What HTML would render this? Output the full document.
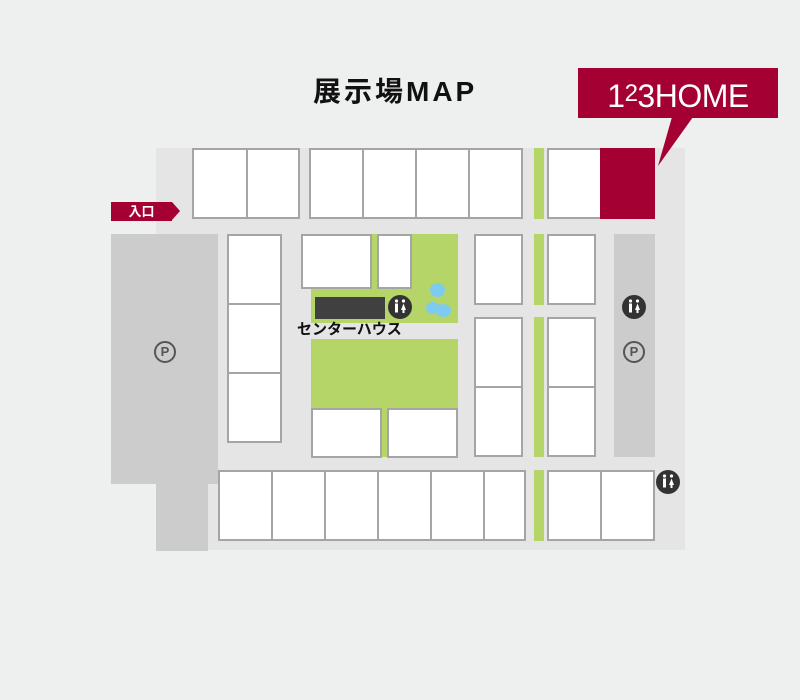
<!DOCTYPE html>
<html><head><meta charset="utf-8"><style>
body{margin:0;width:800px;height:700px;background:#eef0ef;position:relative;overflow:hidden;font-family:"Liberation Sans","Noto Sans CJK JP",sans-serif}
div{position:absolute;box-sizing:border-box}
.w{background:#fff;border:2px solid #a5a5a5}
.g{background:#b5d568}
.p{width:22px;height:22px;border-radius:50%;border:2px solid #555;color:#555;font-size:13px;font-weight:bold;text-align:center;line-height:18px}
</style></head><body>
<div style="left:313px;top:70px;width:180px;font-size:28px;font-weight:bold;letter-spacing:3px;color:#111;white-space:nowrap">展示場MAP</div>
<div style="left:156px;top:148px;width:529px;height:402px;background:#e5e5e5"></div>
<div style="left:111px;top:234px;width:107px;height:250px;background:#ccc"></div>
<div style="left:156px;top:454px;width:52px;height:97px;background:#ccc"></div>
<div style="left:614px;top:234px;width:41px;height:223px;background:#ccc"></div>
<div class="w" style="left:192px;top:148px;width:56px;height:71px"></div>
<div class="w" style="left:246px;top:148px;width:54px;height:71px"></div>
<div class="w" style="left:309px;top:148px;width:55px;height:71px"></div>
<div class="w" style="left:362px;top:148px;width:55px;height:71px"></div>
<div class="w" style="left:415px;top:148px;width:55px;height:71px"></div>
<div class="w" style="left:468px;top:148px;width:55px;height:71px"></div>
<div class="g" style="left:534px;top:148px;width:10px;height:71px"></div>
<div class="w" style="left:547px;top:148px;width:55px;height:71px"></div>
<div style="left:600px;top:148px;width:55px;height:71px;background:#a50034"></div>
<div style="left:111px;top:202px;width:61px;height:19px;background:#a50034;color:#fff;font-size:13px;font-weight:bold;text-align:center;line-height:19px">入口</div>
<div style="left:172px;top:202px;width:0;height:0;border-top:9.5px solid transparent;border-bottom:9.5px solid transparent;border-left:8px solid #a50034"></div>
<div class="w" style="left:227px;top:234px;width:55px;height:71px"></div>
<div class="w" style="left:227px;top:303px;width:55px;height:71px"></div>
<div class="w" style="left:227px;top:372px;width:55px;height:71px"></div>
<div class="g" style="left:311px;top:234px;width:147px;height:89px"></div>
<div class="w" style="left:301px;top:234px;width:71px;height:55px"></div>
<div class="w" style="left:377px;top:234px;width:35px;height:55px"></div>
<div style="left:315px;top:297px;width:70px;height:22px;background:#404040"></div>
<div style="left:430px;top:283px;width:15px;height:14px;border-radius:50%;background:#7ecbf0"></div>
<div style="left:426px;top:302px;width:14px;height:12px;border-radius:50%;background:#7ecbf0"></div>
<div style="left:436px;top:304px;width:15px;height:13px;border-radius:50%;background:#7ecbf0"></div>
<div style="left:297px;top:318px;font-size:15px;font-weight:bold;color:#111">センターハウス</div>
<div class="g" style="left:311px;top:339px;width:147px;height:118px"></div>
<div class="w" style="left:311px;top:408px;width:71px;height:50px"></div>
<div class="w" style="left:387px;top:408px;width:71px;height:50px"></div>
<div class="w" style="left:474px;top:234px;width:49px;height:71px"></div>
<div class="w" style="left:474px;top:317px;width:49px;height:71px"></div>
<div class="w" style="left:474px;top:386px;width:49px;height:71px"></div>
<div class="g" style="left:534px;top:234px;width:10px;height:71px"></div>
<div class="g" style="left:534px;top:317px;width:10px;height:140px"></div>
<div class="g" style="left:534px;top:470px;width:10px;height:71px"></div>
<div class="w" style="left:547px;top:234px;width:49px;height:71px"></div>
<div class="w" style="left:547px;top:317px;width:49px;height:71px"></div>
<div class="w" style="left:547px;top:386px;width:49px;height:71px"></div>
<div class="w" style="left:218px;top:470px;width:55px;height:71px"></div>
<div class="w" style="left:271px;top:470px;width:55px;height:71px"></div>
<div class="w" style="left:324px;top:470px;width:55px;height:71px"></div>
<div class="w" style="left:377px;top:470px;width:55px;height:71px"></div>
<div class="w" style="left:430px;top:470px;width:55px;height:71px"></div>
<div class="w" style="left:483px;top:470px;width:43px;height:71px"></div>
<div class="w" style="left:547px;top:470px;width:55px;height:71px"></div>
<div class="w" style="left:600px;top:470px;width:55px;height:71px"></div>
<div class="p" style="left:154px;top:341px">P</div>
<div class="p" style="left:623px;top:341px">P</div>
<div style="left:578px;top:68px;width:200px;height:50px;background:#a50034;color:#fff;font-size:32px;text-align:center;line-height:52px;letter-spacing:-0.5px">1<sup style="font-size:24px;vertical-align:6px">2</sup>3HOME</div>
<svg style="position:absolute;left:0;top:0" width="800" height="700">
<polygon points="672,117 693,117 658,166" fill="#a50034"/>
<defs><g id="wc"><circle r="12" fill="#333"/><circle cx="-3.5" cy="-6" r="1.6" fill="#fff"/><circle cx="3.5" cy="-6" r="1.6" fill="#fff"/><rect x="-5" y="-3.5" width="3" height="9" fill="#fff"/><polygon points="3.5,-3.5 6,3 1,3" fill="#fff"/><rect x="2.5" y="2" width="2" height="4" fill="#fff"/></g></defs>
<use href="#wc" x="400" y="307"/>
<use href="#wc" x="634" y="307"/>
<use href="#wc" x="668" y="482"/>
</svg>
</body></html>
